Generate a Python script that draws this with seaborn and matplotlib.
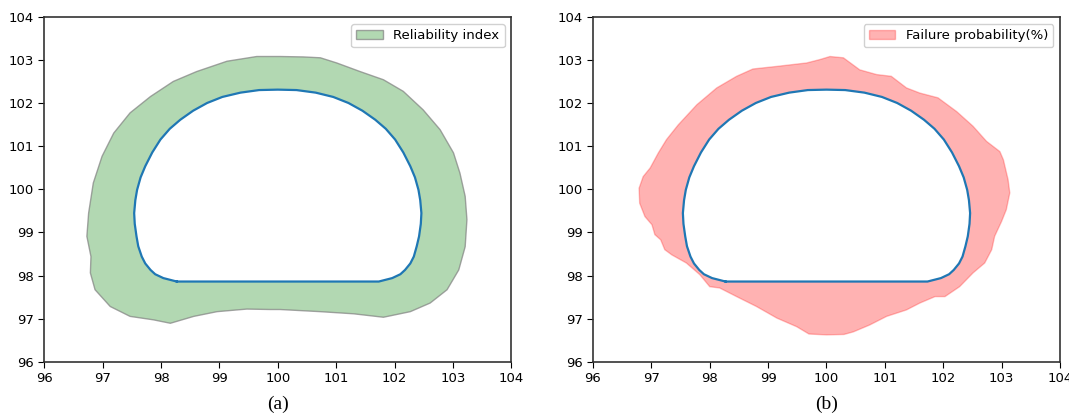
import matplotlib
matplotlib.use("Agg")
import matplotlib.pyplot as plt
import seaborn as sns

# Inner tunnel contour (shared by both panels)
inner_x = [98.27, 98.04, 97.90, 97.82, 97.73, 97.67, 97.61, 97.58, 97.55, 97.54, 97.56, 97.59,
           97.65, 97.73, 97.85, 97.99, 98.15, 98.33, 98.55, 98.79, 99.05, 99.36, 99.68, 100.00,
           100.32, 100.65, 100.95, 101.21, 101.45, 101.67, 101.85, 102.01, 102.15, 102.27,
           102.35, 102.41, 102.44, 102.46, 102.45, 102.42, 102.38, 102.33, 102.27, 102.18,
           102.10, 101.96, 101.73, 98.27]
inner_y = [97.86, 97.94, 98.03, 98.13, 98.28, 98.44, 98.68, 98.91, 99.20, 99.45, 99.75, 99.99,
           100.28, 100.54, 100.86, 101.16, 101.41, 101.62, 101.83, 102.01, 102.15, 102.25, 102.31, 102.32,
           102.31, 102.25, 102.15, 102.01, 101.83, 101.62, 101.41, 101.16, 100.86, 100.54,
           100.28, 99.99, 99.75, 99.45, 99.20, 98.91, 98.68, 98.44, 98.28, 98.13,
           98.03, 97.94, 97.86, 97.86]

# Outer envelope, panel (a): reliability index
rel_x = [100.04, 99.64, 99.13, 98.61, 98.21, 97.82, 97.47, 97.19, 96.99, 96.84, 96.76, 96.73,
         96.80, 96.79, 96.87, 97.13, 97.47, 97.87, 98.16, 98.56, 98.96, 99.47, 99.87, 100.04,
         100.73, 101.30, 101.81, 102.27, 102.61, 102.90, 103.10, 103.21, 103.24, 103.21,
         103.12, 103.01, 102.78, 102.49, 102.15, 101.81, 101.41, 101.01, 100.73, 100.44]
rel_y = [103.09, 103.09, 102.98, 102.74, 102.51, 102.16, 101.78, 101.31, 100.77, 100.15, 99.45, 98.91,
         98.44, 98.06, 97.67, 97.28, 97.05, 96.97, 96.89, 97.05, 97.16, 97.22, 97.21, 97.21,
         97.16, 97.11, 97.03, 97.16, 97.36, 97.67, 98.13, 98.67, 99.30, 99.84,
         100.38, 100.85, 101.39, 101.85, 102.28, 102.55, 102.74, 102.94, 103.06, 103.08]

# Outer envelope, panel (b): failure probability
fail_x = [100.06, 99.89, 99.66, 99.15, 98.74, 98.46, 98.12, 97.78, 97.46, 97.26, 97.12, 96.98,
          96.86, 96.79, 96.80, 96.89, 97.01, 97.06, 97.16, 97.23, 97.35, 97.60, 97.83, 98.00,
          98.17, 98.46, 98.80, 99.15, 99.49, 99.70, 100.00, 100.30, 100.46, 100.74, 101.03,
          101.37, 101.60, 101.86, 102.03, 102.28, 102.51, 102.71, 102.83, 102.88, 103.00,
          103.08, 103.14, 103.11, 103.03, 102.97, 102.74, 102.51, 102.23, 101.91, 101.60,
          101.37, 101.11, 100.86, 100.57, 100.29]
fail_y = [103.09, 103.02, 102.94, 102.86, 102.80, 102.63, 102.36, 101.97, 101.50, 101.16, 100.85, 100.50,
          100.30, 100.03, 99.68, 99.37, 99.18, 98.95, 98.83, 98.60, 98.48, 98.29, 98.02, 97.74,
          97.71, 97.51, 97.28, 97.01, 96.81, 96.64, 96.62, 96.63, 96.69, 96.85, 97.05,
          97.20, 97.36, 97.51, 97.51, 97.74, 98.06, 98.29, 98.60, 98.91, 99.26,
          99.53, 99.92, 100.23, 100.69, 100.88, 101.12, 101.47, 101.81, 102.13, 102.24,
          102.36, 102.63, 102.67, 102.78, 103.06]

ticks = [96, 97, 98, 99, 100, 101, 102, 103, 104]
labels = ["Reliability index", "Failure probability(%)"]
captions = ["(a)", "(b)"]

plt.rcParams['font.family'] = ['DejaVu Sans']
fig = plt.figure(figsize=(10.69, 4.18), dpi=100)
ax_a = fig.add_axes([0.0414, 0.1350, 0.4369, 0.8235])
ax_b = fig.add_axes([0.5547, 0.1350, 0.4369, 0.8235])

panels = [
    (ax_a, rel_x, rel_y, dict(facecolor=(0, 0.5, 0, 0.3), edgecolor=(0.5, 0.5, 0.5, 0.7), linewidth=1.0)),
    (ax_b, fail_x, fail_y, dict(facecolor=(1, 0, 0, 0.3), edgecolor=(1, 0, 0, 0.25), linewidth=1.0)),
]

for (ax, ox, oy, style), lab, cap in zip(panels, labels, captions):
    ax.fill(ox, oy, label=lab, zorder=1, **style)
    ax.fill(inner_x, inner_y, facecolor="white", edgecolor="none", zorder=2)
    sns.lineplot(x=inner_x, y=inner_y, sort=False, estimator=None, ax=ax,
                 color="#1f77b4", linewidth=1.6, zorder=3)
    ax.set_xlim(96, 104)
    ax.set_ylim(96, 104)
    ax.set_xticks(ticks)
    ax.set_yticks(ticks)
    ax.tick_params(labelsize=9.5, direction="out", length=4)
    for s in ax.spines.values():
        s.set_color("#333333")
        s.set_linewidth(1.2)
    ax.legend(loc="upper right", fontsize=9.5, handlelength=2.0, borderpad=0.4,
              framealpha=0.9, edgecolor="#cccccc")
    pos = ax.get_position()
    fig.text(pos.x0 + pos.width / 2, 0.032, cap, ha="center", va="center",
             fontsize=14, family="Liberation Serif")

fig.savefig("out.png", dpi=100)
